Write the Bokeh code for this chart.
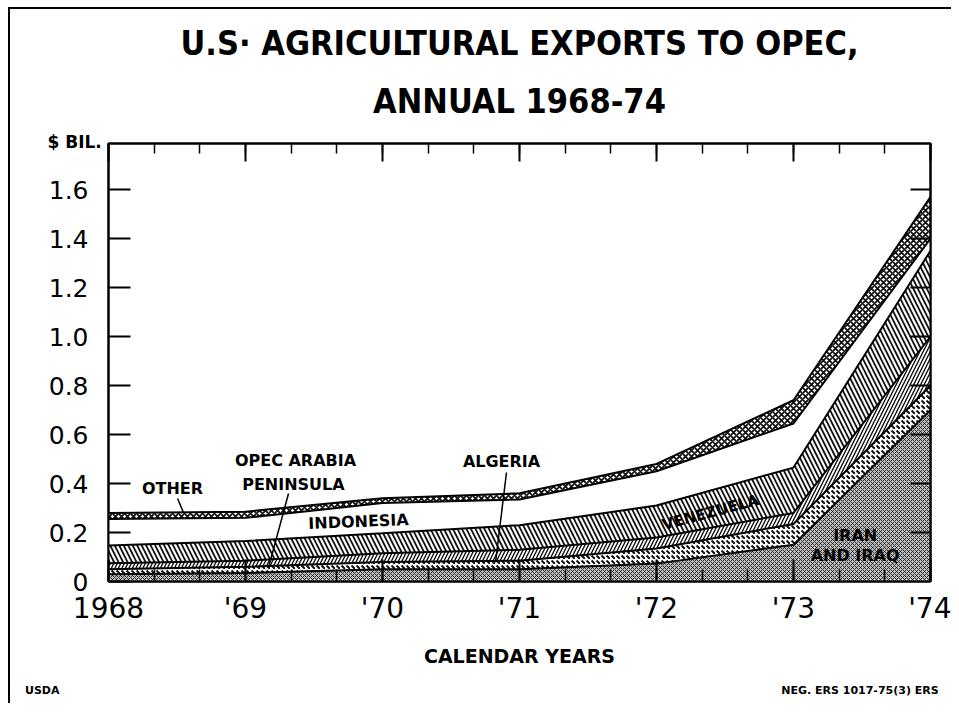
from bokeh.plotting import figure
from bokeh.layouts import column
from bokeh.models import (ColumnDataSource, FixedTicker, LinearAxis, Label, Arrow,
                          Range1d, Title)
from bokeh.transform import stack
from bokeh.embed import file_html
from bokeh.resources import INLINE

# ---- data ($ billion) ----
years = [1968, 1969, 1970, 1971, 1972, 1973, 1974]
year_labels = ["1968", "'69", "'70", "'71", "'72", "'73", "'74"]
iran_iraq = [0.030, 0.035, 0.050, 0.050, 0.073, 0.150, 0.700]
opec_arabia = [0.020, 0.025, 0.030, 0.035, 0.062, 0.085, 0.100]
algeria = [0.025, 0.025, 0.035, 0.045, 0.045, 0.045, 0.200]
venezuela = [0.072, 0.080, 0.082, 0.100, 0.130, 0.185, 0.350]
indonesia = [0.108, 0.095, 0.123, 0.105, 0.140, 0.180, 0.050]
other = [0.025, 0.025, 0.020, 0.025, 0.030, 0.095, 0.170]
y_ticks = [0, 0.2, 0.4, 0.6, 0.8, 1.0, 1.2, 1.4, 1.6]
y_tick_labels = ["0", "0.2", "0.4", "0.6", "0.8", "1.0", "1.2", "1.4", "1.6"]

layers = ["iran_iraq", "opec_arabia", "algeria", "venezuela", "indonesia", "other"]
src = ColumnDataSource(dict(year=years, iran_iraq=iran_iraq, opec_arabia=opec_arabia,
                            algeria=algeria, venezuela=venezuela,
                            indonesia=indonesia, other=other))

TITLE_FONT = "'Liberation Sans Narrow', 'DejaVu Sans Condensed', sans-serif"
LBL_FONT = "DejaVu Sans"

p = figure(frame_width=822, frame_height=438,
           x_range=Range1d(1968, 1974), y_range=Range1d(0, 1.788),
           output_backend="svg", toolbar_location=None, title=None,
           min_border_left=98, min_border_right=21,
           min_border_top=134, min_border_bottom=96,
           background_fill_color="white", border_fill_color="white")
p.grid.visible = False
p.outline_line_color = "black"
p.outline_line_width = 2

p.varea_stack(stackers=layers, x="year", source=src,
              fill_color=["#bdbdbd", "white", "white", "white", "white", "white"],
              hatch_pattern=["x", "`", "/", "\\", " ", "x"],
              hatch_scale=[4, 5, 7, 9, 8, 6],
              hatch_weight=[0.8, 2.0, 1.4, 1.8, 1.0, 1.8],
              hatch_color="#111111")
for i in range(len(layers)):
    p.line(x="year", y=stack(*layers[:i + 1]), source=src, line_color="black", line_width=2)

MINOR_X = [1968 + k / 3 for k in range(19)]

# bottom axis
xa = p.xaxis[0]
xa.ticker = FixedTicker(ticks=years, minor_ticks=MINOR_X)
xa.major_label_overrides = {y: l for y, l in zip(years, year_labels)}
xa.major_tick_in = 22
xa.major_tick_out = 0
xa.minor_tick_in = 12
xa.minor_tick_out = 0
xa.axis_line_width = 2
xa.major_tick_line_width = 2
xa.minor_tick_line_width = 1.5
xa.major_label_standoff = 10
xa.major_label_text_font = LBL_FONT
xa.major_label_text_font_size = "28px"
xa.major_label_text_color = "black"
xa.axis_label = "CALENDAR YEARS"
xa.axis_label_text_font = LBL_FONT
xa.axis_label_text_font_style = "bold"
xa.axis_label_text_font_size = "19px"
xa.axis_label_standoff = 17
xa.axis_label_text_color = "black"

# left axis
ya = p.yaxis[0]
ya.ticker = FixedTicker(ticks=y_ticks)
ya.major_label_overrides = {t: l for t, l in zip(y_ticks, y_tick_labels)}
ya.major_tick_in = 22
ya.major_tick_out = 0
ya.minor_tick_in = 0
ya.minor_tick_out = 0
ya.axis_line_width = 2
ya.major_tick_line_width = 2
ya.major_label_standoff = 20
ya.major_label_text_font = LBL_FONT
ya.major_label_text_font_size = "25px"
ya.major_label_text_color = "black"

# top axis (ticks only)
top = LinearAxis(ticker=FixedTicker(ticks=years, minor_ticks=MINOR_X),
                 major_tick_in=18, major_tick_out=0, minor_tick_in=10, minor_tick_out=0,
                 major_tick_line_width=2, minor_tick_line_width=1.5, axis_line_width=2,
                 major_label_standoff=0, major_label_text_font_size="1px",
                 major_label_text_color=None)
p.add_layout(top, "above")

# right axis (ticks only)
right = LinearAxis(ticker=FixedTicker(ticks=y_ticks[1:]),
                   major_tick_in=20, major_tick_out=0, minor_tick_in=0, minor_tick_out=0,
                   major_tick_line_width=2, axis_line_width=2,
                   major_label_standoff=0, major_label_text_font_size="1px",
                   major_label_text_color=None)
p.add_layout(right, "right")

# unit label and the two title lines (stacked above the frame, nearest first)
p.add_layout(Title(text="$ BIL.", align="left", offset=-61, standoff=-17,
                   text_font=LBL_FONT, text_font_style="bold", text_font_size="17px",
                   text_color="black"), "above")
p.add_layout(Title(text="ANNUAL 1968-74", align="center", offset=-2, standoff=35,
                   text_font=TITLE_FONT, text_font_style="bold", text_font_size="34px",
                   text_color="black"), "above")
p.add_layout(Title(text="U.S· AGRICULTURAL EXPORTS TO OPEC,", align="center", offset=-2,
                   standoff=-2, text_font=TITLE_FONT, text_font_style="bold",
                   text_font_size="34px", text_color="black"), "above")

def lab(fig, x, y, text, size="16px", align="center", angle=0.0):
    fig.add_layout(Label(x=x, y=y, text=text, text_font=LBL_FONT, text_font_style="bold",
                         text_font_size=size, text_align=align, text_baseline="middle",
                         text_color="black", angle=angle))

# series labels
lab(p, 1968.467, 0.38, "OTHER")
lab(p, 1969.365, 0.494, "OPEC ARABIA")
lab(p, 1969.35, 0.396, "PENINSULA")
lab(p, 1970.869, 0.49, "ALGERIA")
lab(p, 1969.825, 0.245, "INDONESIA", angle=0.04)
lab(p, 1972.394, 0.282, "VENEZUELA", size="15px", angle=0.26)
lab(p, 1973.45, 0.188, "IRAN")
lab(p, 1973.45, 0.106, "AND IRAQ")

# leader lines
for xs, ys, xe, ye in [(1968.504, 0.339, 1968.547, 0.282),
                       (1969.314, 0.359, 1969.168, 0.057),
                       (1970.905, 0.445, 1970.825, 0.078)]:
    p.add_layout(Arrow(end=None, x_start=xs, y_start=ys, x_end=xe, y_end=ye,
                       line_color="black", line_width=1.5))

# footer strip: frame aligned with the chart frame, coordinates in page pixels
f = figure(frame_width=843, frame_height=26, x_range=Range1d(108, 951), y_range=Range1d(0, 26),
           output_backend="svg", toolbar_location=None, title=None,
           x_axis_location=None,
           min_border_left=98, min_border_right=0, min_border_top=0, min_border_bottom=0,
           background_fill_color="white", border_fill_color="white")
f.grid.visible = False
f.outline_line_color = None
fy = f.yaxis[0]
fy.ticker = FixedTicker(ticks=[13])
fy.major_label_overrides = {13: "USDA"}
fy.axis_line_color = None
fy.major_tick_line_color = None
fy.minor_tick_line_color = None
fy.major_tick_out = 0
fy.major_tick_in = 0
fy.major_label_standoff = 49
fy.major_label_text_font = LBL_FONT
fy.major_label_text_font_style = "bold"
fy.major_label_text_font_size = "11px"
fy.major_label_text_color = "black"
lab(f, 942, 13, "NEG. ERS 1017-75(3)  ERS", size="11px", align="right")

page = column(p, f, spacing=0, margin=(7, 0, 0, 8),
              styles={"border-left": "2px solid black", "border-top": "2px solid black"})

open("out.html", "w").write(file_html(page, INLINE))
